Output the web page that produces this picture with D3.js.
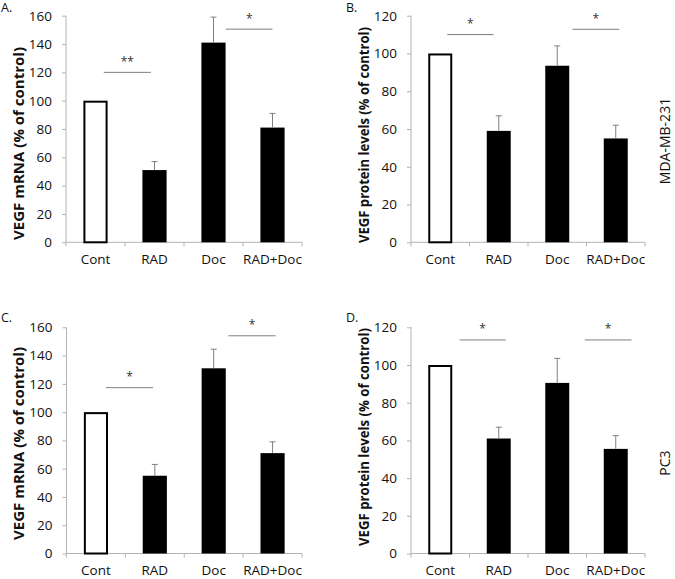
<!DOCTYPE html>
<html>
<head>
<meta charset="utf-8">
<script src="https://cdn.jsdelivr.net/npm/d3@7"></script>
<style>
  html, body { margin: 0; padding: 0; background: #fff; }
  svg { display: block; font-family: "Open Sans", sans-serif; }
</style>
</head>
<body>
<svg id="chart" width="675" height="579"></svg>
<script>
// ---- Data ----
const categories = ["Cont", "RAD", "Doc", "RAD+Doc"];

const mrnaMDA     = [100, 51, 141, 81];
const mrnaMDAErr  = [0, 6, 18, 10];
const protMDA     = [100, 59, 93.5, 55];
const protMDAErr  = [0, 8, 10.5, 7];
const mrnaPC3     = [100, 55, 131, 71];
const mrnaPC3Err  = [0, 8, 13.5, 8];
const protPC3     = [100, 61, 90.5, 55.5];
const protPC3Err  = [0, 6, 13, 7];

const mrnaTicks = [0, 20, 40, 60, 80, 100, 120, 140, 160];
const protTicks = [0, 20, 40, 60, 80, 100, 120];

// significance brackets: from/to in category units, y in data units
const sigA = [{ from: 0.14, to: 0.94, y: 120, label: "**" }, { from: 2.21, to: 3.0, y: 150.5, label: "*" }];
const sigB = [{ from: 0.12, to: 0.91, y: 110, label: "*" },  { from: 2.26, to: 3.06, y: 112.8, label: "*" }];
const sigC = [{ from: 0.17, to: 0.97, y: 117.3, label: "*" }, { from: 2.25, to: 3.05, y: 154, label: "*" }];
const sigD = [{ from: 0.33, to: 1.12, y: 113.3, label: "*" }, { from: 2.47, to: 3.27, y: 113.3, label: "*" }];

const panelLetters = ["A.", "B.", "C.", "D."];
const yTitles = ["VEGF mRNA (% of control)", "VEGF protein levels (% of control)"];
const cellLines = ["MDA-MB-231", "PC3"];

// ---- Layout ----
const svg = d3.select("#chart");
const axisColor = "#b3b3b3";
const sigColor = "#7f7f7f";
const textColor = "#111";

const panels = [
  { letter: panelLetters[0], values: mrnaMDA, errs: mrnaMDAErr, ticks: mrnaTicks, max: 160, sig: sigA, title: yTitles[0],
    left: 66, right: 302, top: 15.7, bottom: 242.3, titleX: 19, titleY: 143.5, titleLen: 193, letterX: 1, letterY: 12 },
  { letter: panelLetters[1], values: protMDA, errs: protMDAErr, ticks: protTicks, max: 120, sig: sigB, title: yTitles[1],
    left: 411, right: 645, top: 15.7, bottom: 242.3, titleX: 364, titleY: 135, titleLen: 216, letterX: 346, letterY: 12 },
  { letter: panelLetters[2], values: mrnaPC3, errs: mrnaPC3Err, ticks: mrnaTicks, max: 160, sig: sigC, title: yTitles[0],
    left: 66.5, right: 302, top: 327.3, bottom: 553.5, titleX: 19, titleY: 443.5, titleLen: 193, letterX: 1, letterY: 322 },
  { letter: panelLetters[3], values: protPC3, errs: protPC3Err, ticks: protTicks, max: 120, sig: sigD, title: yTitles[1],
    left: 411, right: 645, top: 327.3, bottom: 553.5, titleX: 364, titleY: 437, titleLen: 218, letterX: 346, letterY: 322 }
];

panels.forEach(p => {
  const g = svg.append("g");
  const x = d3.scaleBand().domain(categories).range([p.left, p.right])
    .paddingInner(0.59).paddingOuter(0.295);
  const y = d3.scaleLinear().domain([0, p.max]).range([p.bottom, p.top]);
  const step = x.step();
  const catPos = c => p.left + step * (c + 0.5);

  // y axis
  const ya = g.append("g").attr("transform", `translate(${p.left},0)`)
    .call(d3.axisLeft(y).tickValues(p.ticks).tickSize(4).tickPadding(10).tickFormat(d3.format("d")));
  ya.select(".domain").attr("stroke", axisColor).attr("d", `M0,${p.bottom}V${p.top}`);
  ya.selectAll(".tick line").attr("stroke", axisColor);
  ya.selectAll(".tick text").attr("fill", textColor).style("font-size", "13.5px").style("font-family", "Open Sans");

  // x axis (labels)
  const xa = g.append("g").attr("transform", `translate(0,${p.bottom})`)
    .call(d3.axisBottom(x).tickSize(0).tickPadding(12));
  xa.select(".domain").attr("stroke", axisColor).attr("d", `M${p.left},0H${p.right}`);
  xa.selectAll(".tick text").attr("fill", textColor).style("font-size", "13.5px").style("font-family", "Open Sans");

  // x boundary ticks
  g.selectAll(".bt").data(d3.range(categories.length + 1)).join("line")
    .attr("x1", i => p.left + i * step).attr("x2", i => p.left + i * step)
    .attr("y1", p.bottom).attr("y2", p.bottom + 4)
    .attr("stroke", axisColor);

  // bars
  const data = categories.map((c, i) => ({ c, v: p.values[i], e: p.errs[i], i }));
  g.selectAll(".bar").data(data).join("rect")
    .attr("x", d => d.i === 0 ? x(d.c) + 1 : x(d.c))
    .attr("width", d => d.i === 0 ? x.bandwidth() - 2 : x.bandwidth())
    .attr("y", d => d.i === 0 ? y(d.v) + 1 : y(d.v))
    .attr("height", d => d.i === 0 ? y(0) - y(d.v) - 1 : y(0) - y(d.v))
    .attr("fill", d => d.i === 0 ? "#fff" : "#000")
    .attr("stroke", d => d.i === 0 ? "#000" : "none")
    .attr("stroke-width", 2);

  // error bars (upper only)
  const eb = data.filter(d => d.e > 0);
  g.selectAll(".eb").data(eb).join("line")
    .attr("x1", d => x(d.c) + x.bandwidth() / 2).attr("x2", d => x(d.c) + x.bandwidth() / 2)
    .attr("y1", d => y(d.v)).attr("y2", d => y(d.v + d.e))
    .attr("stroke", sigColor).attr("stroke-width", 1);
  g.selectAll(".ec").data(eb).join("line")
    .attr("x1", d => x(d.c) + x.bandwidth() / 2 - 3).attr("x2", d => x(d.c) + x.bandwidth() / 2 + 3)
    .attr("y1", d => y(d.v + d.e)).attr("y2", d => y(d.v + d.e))
    .attr("stroke", sigColor).attr("stroke-width", 1);

  // significance lines
  g.selectAll(".sig").data(p.sig).join("line")
    .attr("x1", d => catPos(d.from)).attr("x2", d => catPos(d.to))
    .attr("y1", d => y(d.y)).attr("y2", d => y(d.y))
    .attr("stroke", sigColor).attr("stroke-width", 1);
  g.selectAll(".star").data(p.sig).join("text")
    .attr("x", d => (catPos(d.from) + catPos(d.to)) / 2)
    .attr("y", d => y(d.y) - 6.5)
    .attr("text-anchor", "middle")
    .attr("fill", "#333")
    .style("font-size", "12px")
    .text(d => d.label);

  // y title
  g.append("text")
    .attr("transform", `translate(${p.titleX},${p.titleY}) rotate(-90)`)
    .attr("text-anchor", "middle")
    .attr("dy", "0.35em")
    .attr("textLength", p.titleLen)
    .attr("lengthAdjust", "spacingAndGlyphs")
    .attr("fill", textColor)
    .style("font-size", "14.5px")
    .style("font-weight", "bold")
    .text(p.title);

  // panel letter
  g.append("text").attr("x", p.letterX).attr("y", p.letterY)
    .attr("fill", textColor).style("font-size", "12.5px").text(p.letter);
});

// cell line labels
const sideY = [141, 463];
svg.selectAll(".side").data(cellLines).join("text")
  .attr("transform", (d, i) => `translate(665,${sideY[i]}) rotate(-90)`)
  .attr("text-anchor", "middle")
  .attr("dy", "0.35em")
  .attr("fill", textColor)
  .style("font-size", "14px")
  .text(d => d);
</script>
</body>
</html>
